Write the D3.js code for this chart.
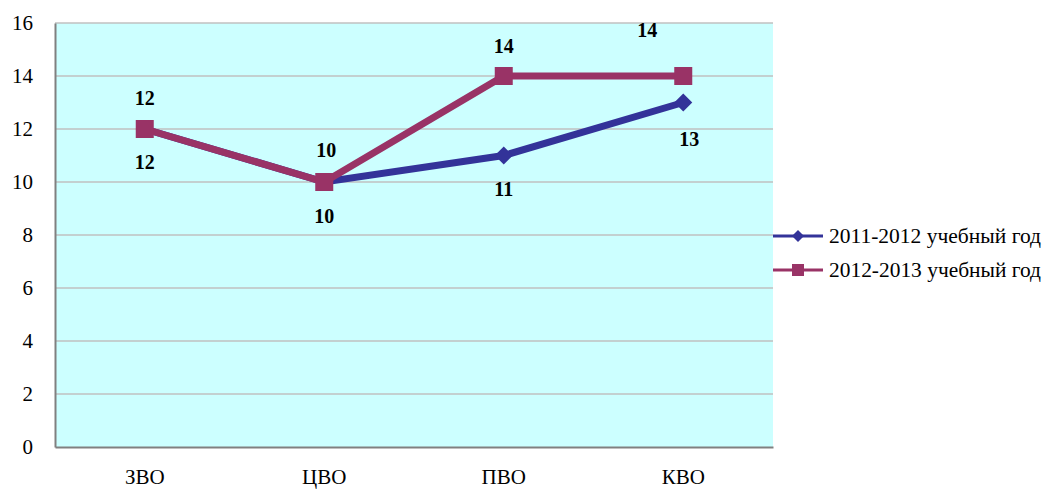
<!DOCTYPE html>
<html><head><meta charset="utf-8">
<script src="https://cdn.jsdelivr.net/npm/d3@7"></script>
<style>body{margin:0;background:#fff}svg{display:block}svg text{font-family:"Liberation Serif","Times New Roman","DejaVu Serif",serif}</style>
</head><body><svg id="c" width="1044" height="490"></svg>
<script>
const categories = ["ЗВО", "ЦВО", "ПВО", "КВО"];
const seriesNames = ["2011-2012 учебный год", "2012-2013 учебный год"];
const values2011 = [12, 10, 11, 13];
const values2012 = [12, 10, 14, 14];
const yTicks = [0, 2, 4, 6, 8, 10, 12, 14, 16];

const svg = d3.select("#c");
const m = {l: 55, r: 773, t: 23, b: 447};
const x = d3.scaleBand().domain(categories).range([m.l, m.r]);
const y = d3.scaleLinear().domain([0, 16]).range([m.b, m.t]);
const cx = c => x(c) + x.bandwidth() / 2;

svg.append("rect").attr("x", m.l).attr("y", m.t).attr("width", m.r - m.l).attr("height", m.b - m.t).attr("fill", "#CCFFFF");
svg.append("g").selectAll("line").data(yTicks.filter(d => d > 0)).join("line")
  .attr("x1", m.l).attr("x2", m.r).attr("y1", d => y(d)).attr("y2", d => y(d))
  .attr("stroke", "#C0C0C0").attr("stroke-width", 1.5);

const ya = svg.append("g").attr("transform", `translate(${m.l},0)`)
  .call(d3.axisLeft(y).tickValues(yTicks).tickSize(0).tickPadding(22));
ya.attr("font-family", null).attr("font-size", null);
ya.select(".domain").attr("stroke", "#808080").attr("stroke-width", 2);
ya.selectAll("text").style("font-size", "21px").attr("fill", "#000");

const xa = svg.append("g").attr("transform", `translate(0,${m.b})`)
  .call(d3.axisBottom(x).tickSize(0).tickPadding(22));
xa.attr("font-family", null).attr("font-size", null);
xa.select(".domain").attr("stroke", "#808080").attr("stroke-width", 2);
xa.selectAll("text").style("font-size", "21px").attr("fill", "#000");

const series = [
  {name: seriesNames[0], vals: values2011, color: "#333399", marker: "diamond", lab: [[0, 33], [0, 34], [0, 33], [6, 36]]},
  {name: seriesNames[1], vals: values2012, color: "#993366", marker: "square", lab: [[0, -31], [2, -32], [0, -30], [-36, -46]]}
];
const line = d3.line().x(d => cx(d.c)).y(d => y(d.v));
function marker(g, type, color, px, py) {
  if (type === "square") g.append("rect").attr("x", px - 9).attr("y", py - 9).attr("width", 18).attr("height", 18).attr("fill", color);
  else g.append("path").attr("d", `M${px},${py - 9}L${px + 9},${py}L${px},${py + 9}L${px - 9},${py}Z`).attr("fill", color);
}
series.forEach(s => {
  const pts = s.vals.map((v, i) => ({c: categories[i], v}));
  svg.append("path").datum(pts).attr("d", line).attr("fill", "none").attr("stroke", s.color).attr("stroke-width", 7);
  const g = svg.append("g");
  pts.forEach(p => marker(g, s.marker, s.color, cx(p.c), y(p.v)));
});
series.forEach(s => {
  s.vals.forEach((v, i) => {
    svg.append("text").attr("x", cx(categories[i]) + s.lab[i][0]).attr("y", y(v) + s.lab[i][1])
      .attr("text-anchor", "middle").attr("dominant-baseline", "central")
      .style("font-size", "20px").style("font-weight", "bold").text(v);
  });
});

const lg = svg.append("g");
series.forEach((s, i) => {
  const ly = 236 + i * 34;
  lg.append("line").attr("x1", 773).attr("x2", 823).attr("y1", ly).attr("y2", ly).attr("stroke", s.color).attr("stroke-width", 3);
  if (s.marker === "square") lg.append("rect").attr("x", 792).attr("y", ly - 6).attr("width", 12).attr("height", 12).attr("fill", s.color);
  else lg.append("path").attr("d", `M798,${ly - 6}L804,${ly}L798,${ly + 6}L792,${ly}Z`).attr("fill", s.color);
  lg.append("text").attr("x", 829).attr("y", ly).attr("dominant-baseline", "central")
    .attr("textLength", 212).attr("lengthAdjust", "spacingAndGlyphs")
    .style("font-size", "20px").attr("fill", "#000").text(s.name);
});
</script></body></html>
